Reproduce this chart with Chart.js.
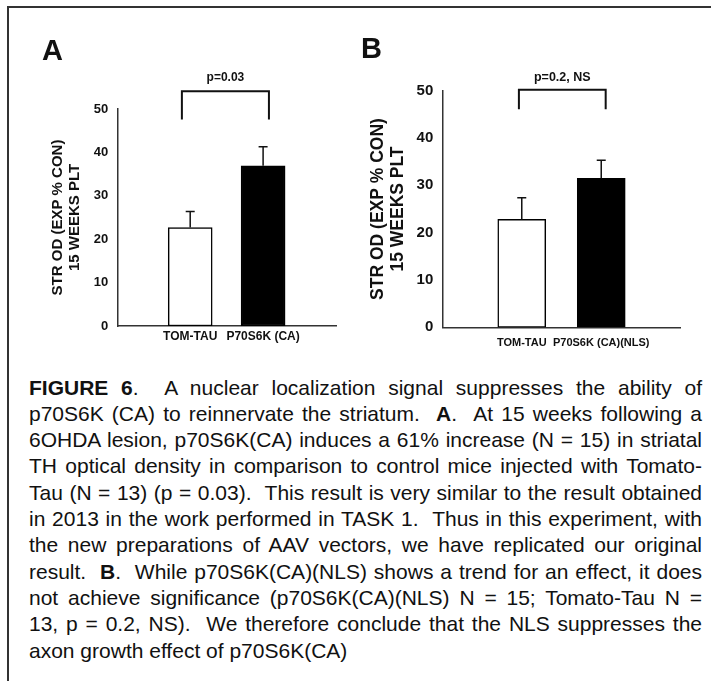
<!DOCTYPE html>
<html>
<head>
<meta charset="utf-8">
<script src="https://cdn.jsdelivr.net/npm/chart.js@4.4.0/dist/chart.umd.min.js"></script>
<style>
  body { margin: 0; background: #fff; }
  #page { position: relative; width: 711px; height: 681px; overflow: hidden; font-family: "Liberation Sans", Arial, sans-serif; }
  #frame { position: absolute; left: 7px; top: 6px; width: 720px; height: 700px; border-top: 2px solid #333; border-left: 2px solid #333; }
  .wrap { position: absolute; top: 0; height: 360px; }
  .letter { position: absolute; font-weight: bold; font-size: 29px; line-height: 29px; color: #111; }
  #caption { position: absolute; left: 29px; top: 374.6px; width: 673px; font-size: 21px; line-height: 26.3px; color: #111; }
  #caption div { white-space: nowrap; text-align: justify; text-align-last: justify; }
  #caption div.last { text-align-last: left; }
</style>
</head>
<body>
<div id="page">
  <div id="frame"></div>
  <div class="wrap" style="left:0;width:355px"><canvas id="chartA"></canvas></div>
  <div class="wrap" style="left:355px;width:356px"><canvas id="chartB"></canvas></div>
  <div class="letter" style="left:42px;top:36px">A</div>
  <div class="letter" style="left:361px;top:34px">B</div>
  <div id="caption">
    <div><b>FIGURE 6</b>. &nbsp;A nuclear localization signal suppresses the ability of</div>
    <div>p70S6K (CA) to reinnervate the striatum. &nbsp;<b>A</b>. &nbsp;At 15 weeks following a</div>
    <div>6OHDA lesion, p70S6K(CA) induces a 61% increase (N = 15) in striatal</div>
    <div>TH optical density in comparison to control mice injected with Tomato-</div>
    <div>Tau (N = 13) (p = 0.03). &nbsp;This result is very similar to the result obtained</div>
    <div>in 2013 in the work performed in TASK 1. &nbsp;Thus in this experiment, with</div>
    <div>the new preparations of AAV vectors, we have replicated our original</div>
    <div>result. &nbsp;<b>B</b>. &nbsp;While p70S6K(CA)(NLS) shows a trend for an effect, it does</div>
    <div>not achieve significance (p70S6K(CA)(NLS) N = 15; Tomato-Tau N =</div>
    <div>13, p = 0.2, NS). &nbsp;We therefore conclude that the NLS suppresses the</div>
    <div class="last">axon growth effect of p70S6K(CA)</div>
  </div>
</div>
<script>
// panel A data
const groupsA = ['TOM-TAU', 'P70S6K (CA)'];
const meansA = [22.7, 36.9];
const errA = [3.7, 4.4];
const bracketA = [0.886, 2.08, 54.1, 47.6]; // from, to (category index), top, end (y units)

// panel B data
const groupsB = ['TOM-TAU', 'P70S6K (CA)(NLS)'];
const meansB = [22.8, 31.5];
const errB = [4.6, 3.8];
const bracketB = [0.964, 2.056, 50.2, 46.1];

const yTicks = [0, 10, 20, 30, 40, 50];
const yTitle = ['STR OD (EXP % CON)', '15 WEEKS PLT'];

const FONT = "'Liberation Sans', Arial, sans-serif";

// whisker going up from the bar top, with a small cap
const errorBars = {
  id: 'errorBars',
  afterDatasetsDraw(chart, args, o) {
    const ctx = chart.ctx;
    const y = chart.scales.y;
    const meta = chart.getDatasetMeta(0);
    const vals = chart.data.datasets[0].data;
    ctx.save();
    ctx.strokeStyle = '#111';
    ctx.lineWidth = 1.5;
    o.errors.forEach((e, i) => {
      const bar = meta.data[i + 1];
      const v = vals[i + 1];
      const base = y.getPixelForValue(v);
      const top = y.getPixelForValue(v + e);
      ctx.beginPath();
      ctx.moveTo(bar.x, base);
      ctx.lineTo(bar.x, top);
      ctx.moveTo(bar.x - o.cap, top);
      ctx.lineTo(bar.x + o.cap, top);
      ctx.stroke();
    });
    ctx.restore();
  }
};

// significance bracket with its p value
const bracket = {
  id: 'bracket',
  afterDraw(chart, args, o) {
    const {ctx, scales: {x, y}} = chart;
    const x0 = x.getPixelForValue(o.pos[0]);
    const x1 = x.getPixelForValue(o.pos[1]);
    const yt = y.getPixelForValue(o.pos[2]);
    const yb = y.getPixelForValue(o.pos[3]);
    ctx.save();
    ctx.strokeStyle = '#111';
    ctx.lineWidth = 2;
    ctx.beginPath();
    ctx.moveTo(x0, yb);
    ctx.lineTo(x0, yt);
    ctx.lineTo(x1, yt);
    ctx.lineTo(x1, yb);
    ctx.stroke();
    ctx.fillStyle = '#111';
    ctx.font = 'bold ' + o.size + 'px ' + FONT;
    ctx.textAlign = 'center';
    ctx.textBaseline = 'middle';
    ctx.fillText(o.text, (x0 + x1) / 2, yt - o.gap);
    ctx.restore();
  }
};

function makeChart(id, groups, means, errs, br, cfg) {
  new Chart(document.getElementById(id), {
    type: 'bar',
    data: {
      labels: [''].concat(groups, ['']),
      datasets: [{
        data: [null].concat(means, [null]),
        backgroundColor: ['#fff', '#fff', '#000', '#fff'],
        borderColor: '#000',
        borderWidth: 1.5,
        borderSkipped: false,
        barThickness: cfg.barW
      }]
    },
    options: {
      responsive: true,
      maintainAspectRatio: false,
      animation: false,
      events: [],
      layout: { padding: cfg.pad },
      plugins: {
        legend: { display: false },
        tooltip: { enabled: false },
        errorBars: { errors: errs, cap: 4.5 },
        bracket: { pos: br, text: cfg.pText, size: cfg.pSize, gap: cfg.pGap }
      },
      scales: {
        x: {
          offset: false,
          grid: { display: false, drawTicks: false },
          border: { display: true, color: '#333', width: 1.5 },
          ticks: {
            autoSkip: false, maxRotation: 0, padding: cfg.xPad, color: '#111',
            font: { family: FONT, size: cfg.xSize, weight: 'bold' }
          },
          afterFit(s) { s.height = 30; }
        },
        y: {
          min: 0, max: 50,
          afterBuildTicks(s) { s.ticks = yTicks.map(v => ({ value: v })); },
          grid: { display: false, drawTicks: false },
          border: { display: true, color: '#333', width: 1.5 },
          ticks: {
            padding: 9, color: '#111',
            font: { family: FONT, size: cfg.ySize, weight: 'bold' }
          },
          title: {
            display: true, text: yTitle, color: '#111',
            padding: { top: cfg.tPad, bottom: 0 },
            font: { family: FONT, size: cfg.tSize, weight: 'bold', lineHeight: cfg.tLine }
          },
          afterFit(s) { s.width = cfg.yW; }
        }
      }
    },
    plugins: [errorBars, bracket]
  });
}

makeChart('chartA', groupsA, meansA, errA, bracketA, {
  barW: 44, pad: { left: 0, top: 109, right: 19, bottom: 4 },
  pText: 'p=0.03', pSize: 12, pGap: 13.7,
  xPad: 3, xSize: 12, ySize: 13, tSize: 15, tLine: 1.133, tPad: 49.5, yW: 117.3
});

makeChart('chartB', groupsB, meansB, errB, bracketB, {
  barW: 48, pad: { left: 0, top: 90.7, right: 30.3, bottom: 2.7 },
  pText: 'p=0.2, NS', pSize: 12.5, pGap: 12.4,
  xPad: 9, xSize: 11, ySize: 15, tSize: 17.5, tLine: 1.15, tPad: 13, yW: 87.3
});
</script>
</body>
</html>
